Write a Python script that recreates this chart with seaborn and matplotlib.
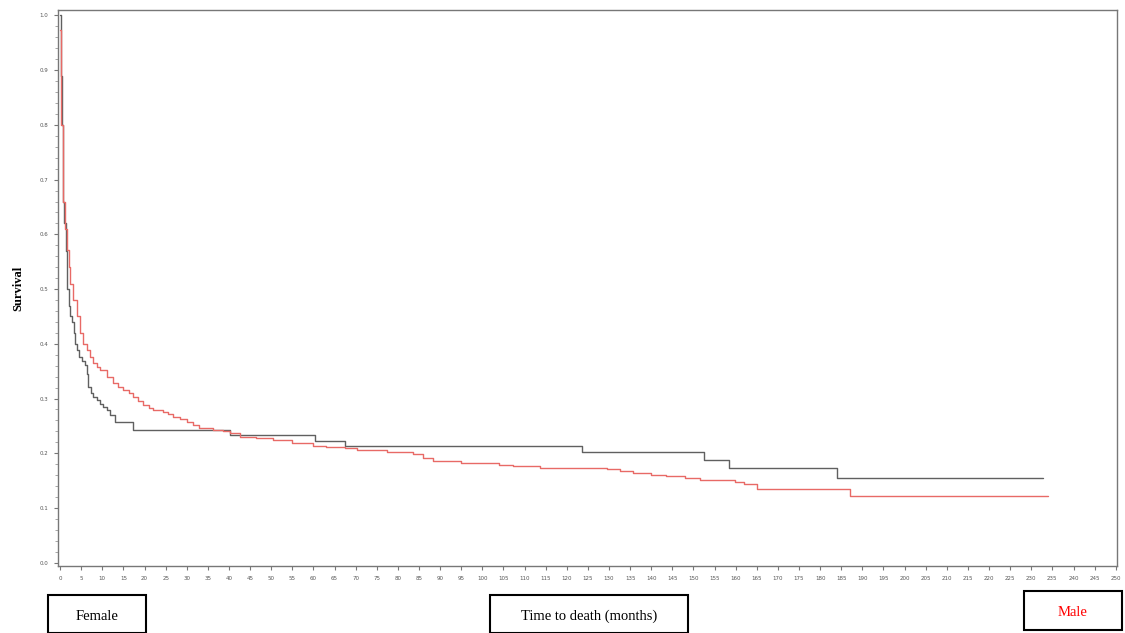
import numpy as np
import pandas as pd
import matplotlib
matplotlib.use("Agg")
import matplotlib.pyplot as plt
from matplotlib.patches import Rectangle
from matplotlib.ticker import MultipleLocator
import seaborn as sns

# ---- data ----
female_time = [0, 0.2, 0.4, 0.6, 0.8, 1.0, 1.3, 1.6, 2.0, 2.4,
               2.8, 3.2, 3.6, 3.9, 4.5, 5.1, 5.9, 6.3, 6.7, 7.3,
               7.9, 8.7, 9.5, 10.2, 11.0, 11.8, 13.0, 17.3, 40.2, 60.4,
               67.5, 123.5, 152.5, 158.4, 183.9, 232.7]
female_surv = [1.0, 0.89, 0.80, 0.71, 0.66, 0.62, 0.57, 0.50, 0.47, 0.45,
               0.44, 0.42, 0.40, 0.389, 0.375, 0.368, 0.361, 0.345, 0.322, 0.31,
               0.303, 0.297, 0.29, 0.285, 0.279, 0.27, 0.258, 0.243, 0.234, 0.223,
               0.2135, 0.202, 0.187, 0.173, 0.155, 0.155]

male_time = [0, 0.3, 0.8, 1.2, 1.6, 2.0, 2.4, 3.1, 3.9, 4.7,
             5.5, 6.3, 7.1, 7.9, 8.7, 9.5, 11.0, 12.6, 13.8, 15.0,
             16.2, 17.3, 18.5, 19.7, 21.0, 22.0, 24.4, 25.5, 26.8, 28.4,
             30.0, 31.5, 33.0, 36.3, 38.5, 40.2, 42.6, 46.5, 50.4, 55.0,
             60.0, 63.0, 67.5, 70.2, 77.3, 83.6, 86.0, 88.4, 95.0, 101.0,
             104.0, 107.3, 113.6, 129.4, 132.5, 135.7, 140.0, 143.6, 148.0, 151.5,
             159.8, 162.0, 165.0, 187.0, 233.9]
male_surv = [0.973, 0.80, 0.66, 0.61, 0.571, 0.54, 0.51, 0.48, 0.45, 0.42,
             0.40, 0.389, 0.376, 0.365, 0.358, 0.352, 0.34, 0.328, 0.322, 0.316,
             0.31, 0.303, 0.296, 0.288, 0.282, 0.279, 0.276, 0.272, 0.267, 0.262,
             0.258, 0.252, 0.246, 0.243, 0.24, 0.237, 0.23, 0.227, 0.224, 0.219,
             0.214, 0.212, 0.209, 0.206, 0.203, 0.199, 0.192, 0.185, 0.183, 0.182,
             0.179, 0.176, 0.173, 0.171, 0.167, 0.164, 0.161, 0.159, 0.155, 0.151,
             0.147, 0.143, 0.1345, 0.122, 0.122]

y_ticks = [0.0, 0.1, 0.2, 0.3, 0.4, 0.5, 0.6, 0.7, 0.8, 0.9, 1.0]
x_ticks = list(range(0, 251, 5))

df = pd.concat([
    pd.DataFrame({"time": female_time, "surv": female_surv, "sex": "Female"}),
    pd.DataFrame({"time": male_time, "surv": male_surv, "sex": "Male"}),
], ignore_index=True)

sns.set_theme(style="white")
W, H = 1125, 633
fig = plt.figure(figsize=(W / 100, H / 100), dpi=100)
ax = fig.add_axes([58 / W, 1 - 566 / H, (1117 - 58) / W, (566 - 10) / H])

sns.lineplot(data=df, x="time", y="surv", hue="sex",
             palette={"Female": "#606060", "Male": "#e86a66"},
             estimator=None, sort=False, drawstyle="steps-post",
             linewidth=1.0, legend=False, ax=ax)

ax.set_xlim(-0.5, 250.3)
ax.set_ylim(-0.006, 1.01)
ax.set_xticks(x_ticks)
ax.set_xticklabels([str(v) for v in x_ticks])
ax.set_yticks(y_ticks)
ax.set_yticklabels([f"{v:.1f}" for v in y_ticks])
ax.yaxis.set_minor_locator(MultipleLocator(0.02))
ax.tick_params(axis="both", which="major", direction="out", length=3, width=0.8,
               colors="#777777", labelsize=4, labelcolor="#555555", pad=4)
ax.tick_params(axis="y", which="minor", direction="out", length=2, width=0.6,
               colors="#999999", left=True)
ax.tick_params(left=True, bottom=True)
for s in ax.spines.values():
    s.set_color("#777777")
    s.set_linewidth(1.0)
ax.set_xlabel("")
ax.set_ylabel("Survival", family="Liberation Serif", fontweight="bold",
              fontsize=9, color="black")
ax.yaxis.set_label_coords((24 - 58) / (1117 - 58), (566 - 288) / (566 - 10))

# boxes at the bottom
boxes = [
    (48, 595, 146, 633, "Female", "black"),
    (490, 595, 688, 633, "Time to death (months)", "black"),
    (1024, 591, 1122, 630, "Male", "#ff0000"),
]
for x0, y0, x1, y1, label, col in boxes:
    fig.patches.append(Rectangle((x0 / W, 1 - y1 / H), (x1 - x0) / W, (y1 - y0) / H,
                                 transform=fig.transFigure, fill=False,
                                 edgecolor="black", linewidth=1.5))
    fig.text((x0 + x1) / 2 / W, 1 - ((y0 + y1) / 2 + 2) / H, label,
             ha="center", va="center", family="Liberation Serif",
             fontsize=10.5, color=col)

fig.savefig("out.png", dpi=100, facecolor="white")
